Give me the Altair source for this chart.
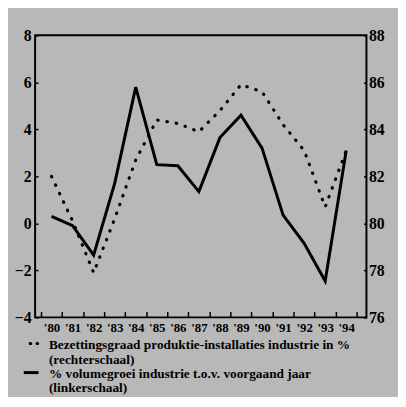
import altair as alt
import pandas as pd

# ---- data ----
years = list(range(1980, 1995))
volume = [0.3, -0.1, -1.35, 1.7, 5.8, 2.5, 2.45, 1.35, 3.65, 4.6, 3.2, 0.35, -0.85, -2.45, 3.1]
capacity = [82.0, 80.1, 77.9, 80.2, 82.7, 84.4, 84.25, 83.9, 84.8, 85.9, 85.6, 84.2, 83.1, 80.7, 83.1]
left_ticks = [-4, -2, 0, 2, 4, 6, 8]
right_ticks = [76, 78, 80, 82, 84, 86, 88]
half_years = [y + 0.5 for y in range(1979, 1995)]
legend_lines = [
    "Bezettingsgraad produktie-installaties industrie in %",
    "(rechterschaal)",
    "% volumegroei industrie t.o.v. voorgaand jaar",
    "(linkerschaal)",
]

FONT = "Liberation Serif"
W, H = 336, 286
XDOM = [1979.22, 1994.96]

df = pd.DataFrame({"jaar": years, "volume": volume, "bezetting": capacity})


def xscale():
    return alt.Scale(domain=XDOM, nice=False, zero=False)


def lscale():
    return alt.Scale(domain=[-4, 8], nice=False, zero=False)


def rscale():
    return alt.Scale(domain=[76, 88], nice=False, zero=False)


solid = alt.Chart(df).mark_line(color="black", strokeWidth=3).encode(
    x=alt.X("jaar:Q", scale=xscale(), axis=alt.Axis(
        values=years, labelExpr="\"'\" + substring(toString(datum.value), 2, 4)",
        ticks=False, domain=False, grid=False, labelOverlap=False, labelFlush=False,
        labelFont=FONT, labelFontSize=13, labelFontWeight="bold", labelColor="black",
        labelPadding=4, title=None)),
    y=alt.Y("volume:Q", scale=lscale(), axis=alt.Axis(
        orient="left", values=left_ticks, ticks=False, domain=False, grid=False,
        labelFont=FONT, labelFontSize=16, labelFontWeight="bold", labelColor="black",
        labelPadding=4, labelFlush=False, labelOverlap=False, title=None)),
)

dotted = alt.Chart(df).mark_line(color="black", strokeWidth=3.2, strokeDash=[0.5, 9],
                                 strokeCap="round").encode(
    x=alt.X("jaar:Q", scale=xscale(), axis=alt.Axis(
        orient="top", offset=-H, values=half_years, labels=False, ticks=True,
        tickSize=6, tickWidth=1.5, tickColor="black", domain=False, grid=False, title=None)),
    y=alt.Y("bezetting:Q", scale=rscale(), axis=alt.Axis(
        orient="right", values=right_ticks, ticks=False, domain=False, grid=False,
        labelFont=FONT, labelFontSize=16, labelFontWeight="bold", labelColor="black",
        labelPadding=2, labelFlush=False, labelOverlap=False, title=None)),
)

left_in = alt.Chart(df).mark_line(opacity=0).encode(
    x=alt.X("jaar:Q", scale=xscale(), axis=None),
    y=alt.Y("volume:Q", scale=lscale(), axis=alt.Axis(
        orient="right", offset=-W, values=left_ticks, labels=False, tickSize=3,
        tickWidth=1.5, tickColor="black", domain=False, grid=False, title=None)),
)

right_in = alt.Chart(df).mark_line(opacity=0).encode(
    x=alt.X("jaar:Q", scale=xscale(), axis=None),
    y=alt.Y("bezetting:Q", scale=rscale(), axis=alt.Axis(
        orient="left", offset=-W, values=right_ticks, labels=False, tickSize=3,
        tickWidth=1.5, tickColor="black", domain=False, grid=False, title=None)),
)

legend_y = [314.5, 329.0, 343.5, 358.0]
texts = []
for line, ly in zip(legend_lines, legend_y):
    texts.append(
        alt.Chart(pd.DataFrame({"t": [line]})).mark_text(
            align="left", baseline="middle", font=FONT, fontSize=13.5,
            fontWeight="bold", color="black").encode(
            text="t:N", x=alt.value(14), y=alt.value(ly))
    )

key_df = pd.DataFrame({"k": [0]})
key_dot = alt.Chart(key_df).mark_rule(color="black", strokeWidth=3.2, strokeDash=[0.5, 6.5],
                                      strokeCap="round").encode(
    x=alt.value(-5), x2=alt.value(2.5), y=alt.value(312.5))
key_solid = alt.Chart(key_df).mark_rule(color="black", strokeWidth=3).encode(
    x=alt.value(-11.5), x2=alt.value(3.5), y=alt.value(342))

chart = alt.layer(solid, dotted, left_in, right_in, key_dot, key_solid, *texts).resolve_scale(
    x="independent", y="independent"
).properties(
    width=W, height=H,
    padding={"left": 27.5, "top": 25, "right": 32, "bottom": 78},
    autosize="none",
    background="#b8b8b8",
).configure_view(stroke="black", strokeWidth=2, fill="#b8b8b8")

chart.save("out.html", embed_options={"renderer": "svg", "actions": False})
